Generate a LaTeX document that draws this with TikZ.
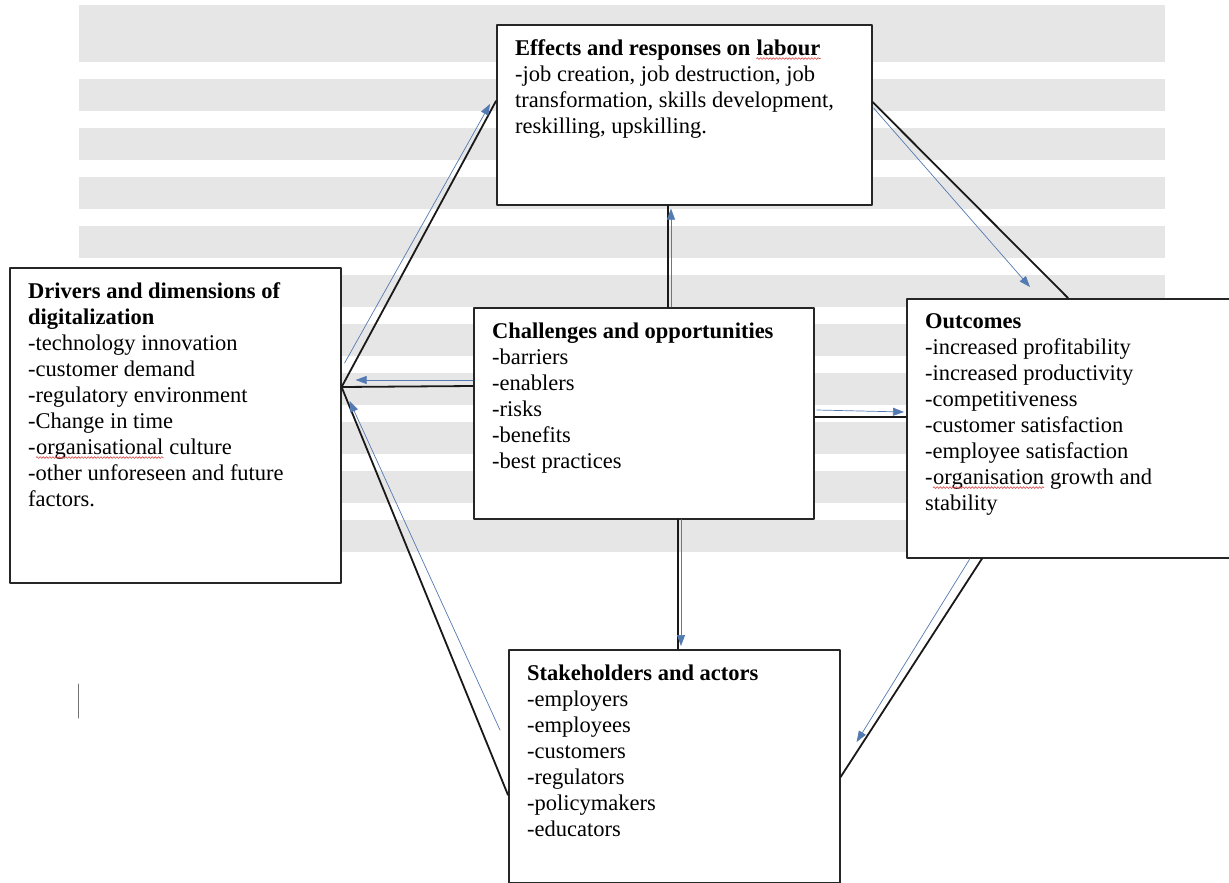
\documentclass[tikz,border=0pt]{standalone}
\usepackage{fontspec}
\setmainfont{Liberation Serif}
\usetikzlibrary{arrows.meta,calc,decorations.pathmorphing}
\definecolor{stripeGrey}{RGB}{230,230,230}
\definecolor{flowBlue}{RGB}{84,122,178}
\definecolor{spellRed}{RGB}{215,70,70}
\newcommand{\spellmark}[1]{%
    \tikz[baseline=(w.base)]{%
        \node[inner sep=0pt] (w) {#1};
        \draw[spellRed,line width=0.6pt,decorate,
            decoration={snake,amplitude=0.9pt,segment length=3.2pt}]
            ([yshift=-3pt]w.base west) -- ([yshift=-3pt]w.base east);
    }%
}

\begin{document}
\begin{tikzpicture}[
    x=1pt,y=-1pt,
    line cap=round,
    line join=round,
    panel/.style={
        rectangle,
        draw=black!85,
        line width=1.6pt,
        fill=white,
        inner sep=0pt,
        anchor=north west
    },
    paneltext/.style={
        anchor=north west,
        inner sep=0pt,
        align=left,
        font=\fontsize{22.5}{26}\selectfont
    },
    link/.style={draw=black!90,line width=1.8pt},
    flow/.style={
        draw=flowBlue,
        line width=0.7pt,
        -{Triangle[length=11pt,width=8pt]}
    },
    stripe/.style={fill=stripeGrey,draw=none}
]

\useasboundingbox (0,0) rectangle (1229,883);
\fill[white] (0,0) rectangle (1229,883);

% ============================================================
% page stripes behind the diagram
% ============================================================

\fill[stripe] (79,5) rectangle (1165,62);
\foreach \k in {0,...,9}{
    \fill[stripe] (79,79+49*\k) rectangle (1165,111+49*\k);
}

% text cursor
\draw[black!55,line width=1pt] (78,684) -- (78,718);

% ============================================================
% boxes
% ============================================================

\newcommand{\InfoBox}[5]{%
    \node[panel,minimum width=#3,minimum height=#4] (#1) at #2 {};
    \node[paneltext] (#1-text) at ($(#1.north west)+(19,15.5)$) {#5};
}

\InfoBox{effects}{(496,24)}{375}{180}{%
    \textbf{Effects and responses on \spellmark{labour}}\\
    -job creation, job destruction, job\\
    transformation, skills development,\\
    reskilling, upskilling.}

\InfoBox{drivers}{(9,267)}{331}{315}{%
    \textbf{Drivers and dimensions of}\\
    \textbf{digitalization}\\
    -technology innovation\\
    -customer demand\\
    -regulatory environment\\
    -Change in time\\
    -\spellmark{organisational} culture\\
    -other unforeseen and future\\
    factors.}

\InfoBox{challenges}{(473,307)}{340}{211}{%
    \textbf{Challenges and opportunities}\\
    -barriers\\
    -enablers\\
    -risks\\
    -benefits\\
    -best practices}

\InfoBox{outcomes}{(906,298)}{330}{259}{%
    \textbf{Outcomes}\\
    -increased profitability\\
    -increased productivity\\
    -competitiveness\\
    -customer satisfaction\\
    -employee satisfaction\\
    -\spellmark{organisation} growth and\\
    stability}

\InfoBox{stakeholders}{(508,649)}{331}{233}{%
    \textbf{Stakeholders and actors}\\
    -employers\\
    -employees\\
    -customers\\
    -regulators\\
    -policymakers\\
    -educators}

% ============================================================
% contact points on the box edges
% ============================================================

\coordinate (hubD)   at ($(drivers.north east)+(0,120)$);
\coordinate (effIn)  at ($(effects.north west)+(0,77)$);
\coordinate (effOut) at ($(effects.north east)+(0,78)$);
\coordinate (effBot) at ($(effects.south west)+(172,0)$);
\coordinate (chTop)  at ($(challenges.north west)+(195,0)$);
\coordinate (chLeft) at ($(challenges.north west)+(0,79)$);
\coordinate (chRight) at ($(challenges.north east)+(0,110)$);
\coordinate (chBot)  at ($(challenges.south west)+(205,0)$);
\coordinate (outTop) at ($(outcomes.north west)+(162,0)$);
\coordinate (outLeft) at ($(outcomes.north west)+(0,119)$);
\coordinate (outBot) at ($(outcomes.south west)+(76,0)$);
\coordinate (stTop)  at ($(stakeholders.north west)+(170,0)$);
\coordinate (stLeft) at ($(stakeholders.north west)+(0,146)$);
\coordinate (stRight) at ($(stakeholders.north east)+(0,128)$);

% ============================================================
% connectors: black line with a thin arrow beside it
% ============================================================

\draw[link] (hubD) -- (effIn);
\draw[flow] ($(hubD)+(3,-24)$) -- ($(effIn)+(-6,3)$);

\draw[link] (chLeft) -- (hubD);
\draw[flow] ($(chLeft)+(0,-6)$) -- ($(hubD)+(14,-7)$);

\draw[link] (stLeft) -- (hubD);
\draw[flow] ($(stLeft)+(-8,-65)$) -- ($(hubD)+(8,14)$);

\draw[link] (chTop) -- (effBot);
\draw[flow] ($(chTop)+(3,0)$) -- ($(effBot)+(3,3)$);

\draw[link] (effOut) -- (outTop);
\draw[flow] ($(effOut)+(1,6)$) -- ($(outTop)+(-38,-11)$);

\draw[link] (chRight) -- (outLeft);
\draw[flow] ($(chRight)+(2,-7)$) -- ($(outLeft)+(-2,-5)$);

\draw[link] (outBot) -- (stRight);
\draw[flow] ($(outBot)+(-12,0)$) -- ($(stRight)+(16,-35)$);

\draw[link] (chBot) -- (stTop);
\draw[flow] ($(chBot)+(3,0)$) -- ($(stTop)+(3,-3)$);

\end{tikzpicture}
\end{document}
